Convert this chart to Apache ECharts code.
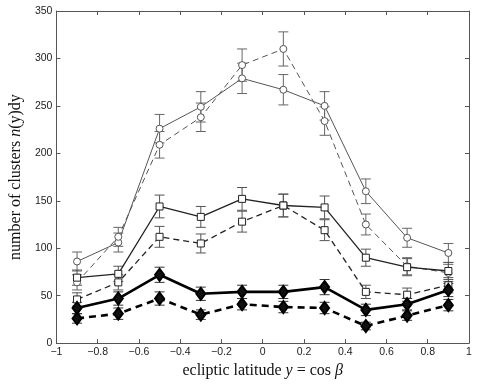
<!DOCTYPE html>
<html>
<head>
<meta charset="utf-8">
<script src="https://cdn.jsdelivr.net/npm/echarts@6/dist/echarts.min.js"></script>
<style>
  html, body { margin: 0; padding: 0; background: #fff; }
  #chart { width: 477px; height: 384px; }
</style>
</head>
<body>
<div id="chart"></div>
<script>
// ecliptic latitude bins
const xs = [-0.9, -0.7, -0.5, -0.3, -0.1, 0.1, 0.3, 0.5, 0.7, 0.9];

// open circles
const circSolid = [86, 106, 226, 249, 279, 267, 250, 160, 111, 95];
const circSolidErr = [10, 10, 15, 16, 16, 16, 15, 13, 10, 10];
const circDashed = [64, 112, 209, 238, 293, 310, 234, 125, 81, 74];
const circDashedErr = [8, 10, 14, 15, 17, 18, 15, 11, 9, 9];

// squares
const sqSolid = [69, 73, 144, 133, 152, 145, 143, 90, 80, 76];
const sqSolidErr = [8, 8, 12, 11, 12, 12, 12, 9, 9, 9];
const sqDashed = [46, 64, 112, 105, 128, 145, 119, 54, 51, 61];
const sqDashedErr = [7, 8, 11, 10, 11, 12, 11, 7, 7, 8];

// diamonds (thick)
const diSolid = [37, 47, 72, 52, 54, 54, 59, 35, 41, 56];
const diSolidErr = [6, 7, 8, 7, 7, 7, 8, 6, 6, 7];
const diDashed = [26, 31, 47, 30, 41, 38, 37, 18, 29, 40];
const diDashedErr = [5, 6, 7, 5, 6, 6, 6, 4, 5, 6];

const frameColor = "#555";
const serif = "'Liberation Serif', 'DejaVu Serif', serif";
const sans = "'Liberation Sans', Arial, sans-serif";

function tickFmt(v) {
  let r = Math.round(v * 10) / 10;
  return r < 0 ? "\u2212" + Math.abs(r) : String(r);
}

function pairs(vals) {
  return xs.map((x, i) => [x, vals[i]]);
}

function errBars(vals, errs, color) {
  return {
    type: "custom",
    z: 1,
    silent: true,
    data: xs.map((x, i) => [x, vals[i] - errs[i], vals[i] + errs[i]]),
    renderItem: function (params, api) {
      let top = api.coord([api.value(0), api.value(2)]);
      let bot = api.coord([api.value(0), api.value(1)]);
      let w = 5;
      let st = { stroke: color, lineWidth: 1 };
      return {
        type: "group",
        children: [
          { type: "line", shape: { x1: top[0], y1: top[1], x2: bot[0], y2: bot[1] }, style: st },
          { type: "line", shape: { x1: top[0] - w, y1: top[1], x2: top[0] + w, y2: top[1] }, style: st },
          { type: "line", shape: { x1: bot[0] - w, y1: bot[1], x2: bot[0] + w, y2: bot[1] }, style: st }
        ]
      };
    }
  };
}

function line(vals, opts) {
  return {
    type: "line",
    z: 3,
    data: pairs(vals),
    symbol: opts.symbol,
    symbolSize: opts.size,
    showSymbol: true,
    animation: false,
    lineStyle: { color: opts.color, width: opts.width, type: opts.dash ? [opts.dashLen, opts.gap] : "solid" },
    itemStyle: { color: opts.fill || "#fff", borderColor: opts.color, borderWidth: opts.markerWidth }
  };
}

let chart = echarts.init(document.getElementById("chart"), null, { renderer: "canvas" });

function axisCommon() {
  return {
    axisLine: { show: true, onZero: false, lineStyle: { color: frameColor, width: 1 } },
    axisTick: { show: true, inside: true, length: 4, lineStyle: { color: frameColor } },
    splitLine: { show: false }
  };
}

let option = {
  animation: false,
  grid: { left: 33, right: 8, top: 11, bottom: 29 },
  xAxis: [
    Object.assign({
      type: "value", min: -1, max: 1, interval: 0.2,
      axisLabel: { formatter: tickFmt, color: "#222", fontSize: 10.5, fontFamily: sans, margin: 4 },
      name: "{r|ecliptic latitude }{i|y}{r| = cos }{i|\u03b2}",
      nameLocation: "middle",
      nameGap: 17,
      nameTextStyle: {
        rich: {
          r: { fontFamily: serif, fontSize: 16, color: "#111" },
          i: { fontFamily: serif, fontSize: 16, fontStyle: "italic", color: "#111" }
        }
      }
    }, axisCommon()),
    Object.assign({
      type: "value", min: -1, max: 1, interval: 0.2, position: "top",
      axisLabel: { show: false }
    }, axisCommon())
  ],
  yAxis: [
    Object.assign({
      type: "value", min: 0, max: 350, interval: 50,
      axisLabel: { color: "#222", fontSize: 10.5, fontFamily: sans, margin: 4 },
      name: "{r|number of clusters }{i|n}{r|(y)dy}",
      nameLocation: "middle",
      nameGap: 20,
      nameTextStyle: {
        rich: {
          r: { fontFamily: serif, fontSize: 16, color: "#111" },
          i: { fontFamily: serif, fontSize: 16, fontStyle: "italic", color: "#111" }
        }
      }
    }, axisCommon()),
    Object.assign({
      type: "value", min: 0, max: 350, interval: 50, position: "right",
      axisLabel: { show: false }
    }, axisCommon())
  ],
  series: [
    errBars(circSolid, circSolidErr, "#666"),
    errBars(circDashed, circDashedErr, "#666"),
    errBars(sqSolid, sqSolidErr, "#555"),
    errBars(sqDashed, sqDashedErr, "#555"),
    errBars(diSolid, diSolidErr, "#333"),
    errBars(diDashed, diDashedErr, "#333"),
    line(circSolid, { symbol: "circle", size: 7, color: "#555", width: 1, markerWidth: 1 }),
    line(circDashed, { symbol: "circle", size: 7, color: "#555", width: 1, dash: true, dashLen: 6, gap: 4, markerWidth: 1 }),
    line(sqSolid, { symbol: "rect", size: 7, color: "#222", width: 1.3, markerWidth: 1 }),
    line(sqDashed, { symbol: "rect", size: 7, color: "#222", width: 1.3, dash: true, dashLen: 6, gap: 4, markerWidth: 1 }),
    line(diSolid, { symbol: "diamond", size: [9, 12], color: "#000", fill: "#111", width: 2.6, markerWidth: 2 }),
    line(diDashed, { symbol: "diamond", size: [9, 12], color: "#000", fill: "#111", width: 2.6, dash: true, dashLen: 7, gap: 5, markerWidth: 2 })
  ]
};

chart.setOption(option);
</script>
</body>
</html>
